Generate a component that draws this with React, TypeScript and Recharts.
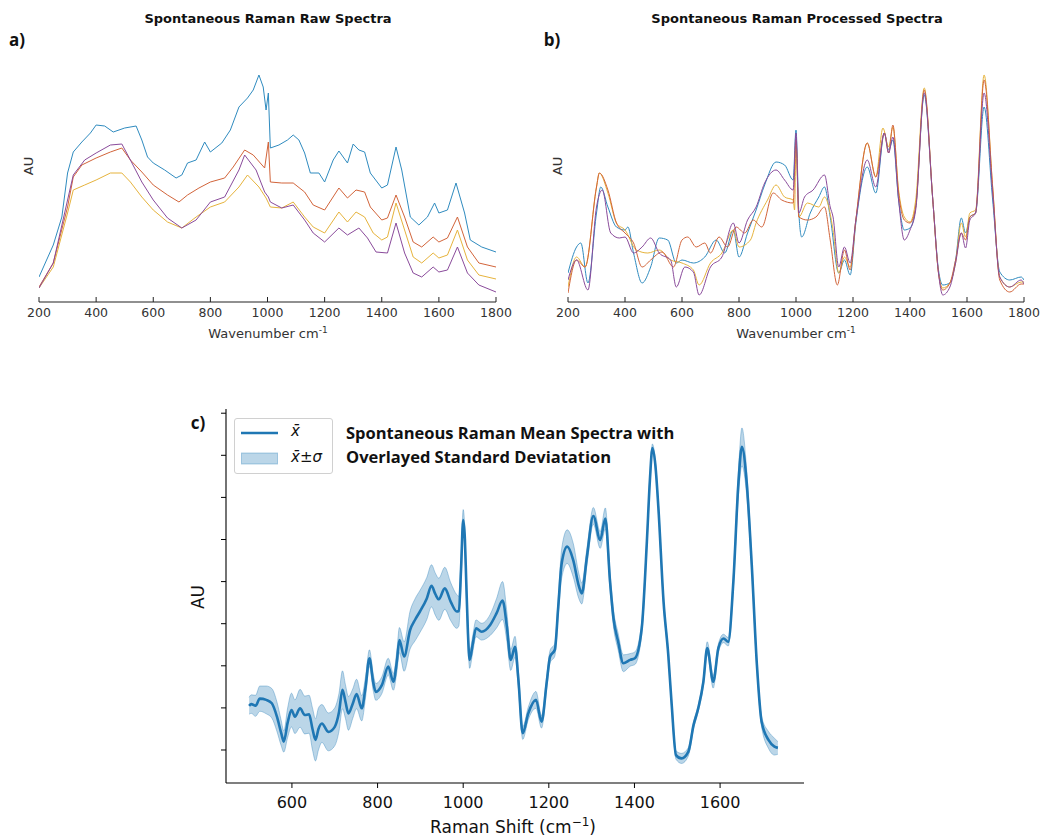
import React from 'react';
import { LineChart, ComposedChart, Line, Area, XAxis, YAxis } from 'recharts';

// ---------- Panel a: raw spectra (AU, arbitrary units) ----------
const rawTealX = [200,250,280,300,320,350,380,400,430,460,500,540,560,580,600,640,680,700,720,750,780,800,840,870,900,930,950,970,985,995,1003,1010,1040,1070,1090,1110,1130,1150,1180,1200,1230,1250,1280,1300,1320,1340,1360,1400,1420,1450,1470,1500,1530,1560,1585,1600,1630,1660,1690,1710,1750,1800];
const rawTeal = [25,57,85,129,150,160,169,177,176,170,174,176,162,145,139,132,124,127,139,142,160,150,159,172,195,204,212,227,215,192,209,154,157,162,167,162,149,129,129,120,142,151,139,158,152,150,129,114,117,155,132,85,77,85,99,89,92,119,89,62,55,50];
const rawOrangeX = [200,250,300,320,350,400,450,490,520,560,600,650,690,720,760,800,850,880,920,950,990,1003,1010,1050,1090,1130,1160,1200,1250,1280,1310,1340,1360,1400,1420,1450,1480,1510,1540,1580,1600,1630,1665,1700,1740,1800];
const rawOrange = [15,39,95,125,137,144,150,154,142,130,117,107,100,107,114,120,124,135,152,147,134,160,120,119,119,110,97,92,114,104,112,110,95,82,84,107,85,60,55,65,60,64,85,55,39,35];
const rawYellowX = [200,250,300,320,360,400,450,490,520,560,600,650,700,750,800,850,900,930,970,995,1010,1050,1090,1130,1160,1200,1250,1280,1310,1340,1370,1400,1420,1450,1480,1510,1540,1580,1600,1630,1665,1700,1740,1800];
const rawYellow = [14,35,89,112,117,122,129,129,120,105,92,80,74,85,95,100,115,127,115,104,95,94,100,85,75,69,90,80,90,85,69,62,65,99,72,45,39,49,44,47,72,42,27,23];
const rawPurpleX = [200,250,300,320,360,400,450,490,520,560,600,650,700,750,800,850,900,920,960,990,1003,1010,1050,1090,1130,1160,1200,1250,1280,1320,1350,1380,1420,1450,1480,1510,1540,1580,1600,1630,1665,1700,1740,1800];
const rawPurple = [14,39,102,127,142,149,157,158,142,120,102,84,74,82,100,105,132,147,132,110,105,100,94,97,82,69,60,74,67,74,64,50,49,79,49,29,25,35,30,32,55,29,17,10];

// ---------- Panel b: processed spectra ----------
const procTealX = [200,230,245,270,300,315,340,370,400,410,430,460,490,520,550,580,600,640,680,720,750,780,800,830,860,890,930,960,990,1000,1010,1020,1050,1080,1100,1120,1150,1170,1190,1210,1250,1280,1310,1325,1340,1360,1380,1400,1420,1450,1480,1500,1515,1540,1560,1580,1595,1610,1630,1660,1690,1715,1750,1790,1800];
const procTeal = [29,55,59,19,89,115,95,75,72,75,49,19,35,64,62,39,42,39,45,62,49,72,45,69,92,117,140,137,122,172,89,65,89,105,115,85,29,42,27,79,135,109,169,152,162,102,72,74,95,207,102,32,17,19,42,84,69,85,89,195,102,30,22,25,22];
const procYellowX = [200,230,260,300,310,340,370,400,440,480,520,560,600,640,660,700,740,780,800,840,860,900,930,960,990,995,1000,1010,1040,1080,1100,1130,1150,1170,1190,1210,1250,1280,1305,1325,1340,1360,1380,1400,1420,1450,1480,1500,1515,1540,1560,1580,1595,1610,1630,1660,1690,1715,1750,1790,1800];
const procYellow = [15,45,35,115,129,109,79,72,52,49,52,42,39,32,17,39,49,72,55,62,79,102,117,105,102,92,159,85,99,95,105,72,29,45,35,82,159,125,174,155,175,112,85,80,102,214,102,29,14,19,39,79,65,89,92,227,115,25,15,20,20];
const procOrangeX = [200,230,260,300,310,340,370,400,430,460,490,530,570,600,620,650,680,700,730,760,790,820,850,880,920,950,990,1000,1010,1040,1070,1100,1120,1145,1170,1190,1210,1250,1280,1310,1325,1340,1360,1380,1400,1420,1450,1480,1500,1515,1540,1560,1580,1595,1610,1630,1660,1690,1715,1750,1790,1800];
const procOrange = [9,42,35,115,129,112,79,69,59,35,42,50,35,62,65,55,59,49,65,55,75,69,82,75,109,102,99,162,85,82,85,95,62,17,52,32,82,159,125,169,149,177,109,82,79,95,212,102,29,12,19,42,69,62,85,89,222,115,22,10,18,18];
const procPurpleX = [200,230,270,300,320,350,380,400,430,460,490,520,560,580,610,640,660,700,740,780,800,830,860,890,930,960,990,1000,1010,1030,1060,1100,1120,1130,1150,1170,1190,1210,1250,1280,1310,1325,1340,1360,1380,1400,1420,1450,1480,1500,1515,1540,1560,1580,1595,1610,1630,1660,1690,1715,1750,1790,1800];
const procPurple = [22,42,12,95,112,69,64,65,49,55,64,49,42,15,35,30,7,35,45,79,59,82,95,119,132,122,112,169,89,105,112,127,95,85,35,55,39,82,142,115,169,149,165,102,62,72,92,209,102,29,7,15,39,69,54,82,89,209,109,25,15,22,18];

const wavenumberTicks = [200,400,600,800,1000,1200,1400,1600,1800];

// ---------- Panel c: mean spectrum and standard deviation ----------
const shiftC = [500,505,515,525,540,553,565,575,581,590,599,607,619,630,640,648,655,662,670,685,700,710,718,725,732,742,751,763,772,781,790,796,810,825,837,845,851,862,876,888,899,915,926,935,943,957,971,985,990,995,1000,1004,1007,1011,1015,1022,1030,1043,1063,1078,1092,1102,1111,1121,1129,1139,1152,1170,1183,1195,1203,1214,1222,1230,1243,1257,1270,1277,1289,1304,1320,1332,1343,1351,1362,1374,1390,1401,1417,1429,1436,1442,1449,1456,1468,1479,1487,1497,1510,1526,1538,1549,1561,1570,1584,1596,1608,1619,1631,1643,1651,1662,1674,1686,1697,1713,1727,1735];
const meanC = [1.05,1.09,1.05,1.22,1.19,1.11,0.79,0.4,0.2,0.65,0.95,0.79,0.99,0.83,0.85,0.5,0.24,0.5,0.63,0.43,0.55,0.9,1.43,1.15,0.87,1.1,1.33,0.99,1.5,2.18,1.6,1.38,1.54,1.98,1.62,2.1,2.61,2.22,2.85,3.1,3.29,3.6,3.9,3.7,3.58,3.84,3.52,3.29,3.3,4.3,5.46,5.0,4.04,2.8,2.14,2.5,2.89,2.81,2.97,3.25,3.55,2.93,2.14,2.45,1.66,0.4,0.87,1.19,0.67,1.6,2.22,2.38,3.4,4.43,4.83,4.51,3.9,3.72,4.59,5.56,4.99,5.5,4.0,3.13,2.57,2.06,2.14,2.18,2.89,4.95,6.4,7.17,6.75,5.74,3.52,2.26,1.07,-0.12,-0.2,-0.04,0.59,0.99,1.62,2.42,1.62,2.42,2.65,2.57,4.0,6.37,7.2,6.37,4.39,2.02,0.67,0.24,0.08,0.05];
const sdC = [0.2,0.22,0.25,0.3,0.33,0.35,0.35,0.3,0.25,0.35,0.4,0.4,0.45,0.45,0.45,0.5,0.5,0.5,0.45,0.45,0.45,0.45,0.45,0.4,0.4,0.35,0.35,0.3,0.25,0.2,0.2,0.2,0.2,0.2,0.2,0.25,0.3,0.35,0.45,0.5,0.5,0.5,0.5,0.5,0.5,0.5,0.45,0.4,0.35,0.3,0.25,0.22,0.2,0.2,0.2,0.2,0.2,0.2,0.25,0.35,0.45,0.35,0.25,0.25,0.2,0.15,0.15,0.2,0.15,0.15,0.15,0.15,0.2,0.35,0.4,0.4,0.3,0.25,0.2,0.2,0.2,0.25,0.2,0.2,0.2,0.2,0.15,0.15,0.15,0.1,0.1,0.1,0.1,0.1,0.08,0.08,0.08,0.1,0.12,0.1,0.08,0.08,0.1,0.15,0.15,0.1,0.1,0.1,0.15,0.3,0.45,0.3,0.15,0.1,0.12,0.2,0.2,0.15];
const shiftTicks = [600,800,1000,1200,1400,1600];
const auTicks = [0,1,2,3,4,5,6,7,8];

const COLORS = { teal: '#2f8bbf', orange: '#d2643a', yellow: '#e6b33c', purple: '#8a4b9b' };
const MPL_BLUE = '#1f77b4';

const pairs = (xs: number[], ys: number[]) => xs.map((w, i) => ({ w, v: ys[i] }));

const rawSeries = [
  { name: 'teal', data: pairs(rawTealX, rawTeal), color: COLORS.teal },
  { name: 'orange', data: pairs(rawOrangeX, rawOrange), color: COLORS.orange },
  { name: 'yellow', data: pairs(rawYellowX, rawYellow), color: COLORS.yellow },
  { name: 'purple', data: pairs(rawPurpleX, rawPurple), color: COLORS.purple },
];
const procSeries = [
  { name: 'teal', data: pairs(procTealX, procTeal), color: COLORS.teal },
  { name: 'yellow', data: pairs(procYellowX, procYellow), color: COLORS.yellow },
  { name: 'orange', data: pairs(procOrangeX, procOrange), color: COLORS.orange },
  { name: 'purple', data: pairs(procPurpleX, procPurple), color: COLORS.purple },
];
const meanRows = shiftC.map((w, i) => ({ w, m: meanC[i], band: [meanC[i] - sdC[i], meanC[i] + sdC[i]] }));

const abs = (left: number, top: number, extra: React.CSSProperties = {}): React.CSSProperties => ({
  position: 'absolute', left, top, transform: 'translate(-50%, -50%)', whiteSpace: 'nowrap', lineHeight: 1, ...extra,
});

function SpectraPanel({ series, lineType, width, left, right }:
  { series: typeof rawSeries; lineType: 'linear' | 'monotone'; width: number; left: number; right: number }) {
  return (
    <LineChart width={width} height={350} margin={{ top: 28, right, bottom: 18, left }}>
      <XAxis
        type="number" dataKey="w" domain={[200, 1800]} ticks={wavenumberTicks} allowDataOverflow interval={0}
        height={30} tickSize={-5} tickMargin={11}
        axisLine={{ stroke: '#222', strokeWidth: 1.2 }} tickLine={{ stroke: '#222' }}
        tick={{ fill: '#333', fontSize: 12.5, fontFamily: 'DejaVu Sans' }}
      />
      <YAxis type="number" domain={[0, 274]} allowDataOverflow width={0} tick={false} tickLine={false}
        axisLine={{ stroke: '#222', strokeWidth: 1.8 }} />
      {series.map((s) => (
        <Line key={s.name} data={s.data} dataKey="v" type={lineType} stroke={s.color} strokeWidth={1}
          dot={false} activeDot={false} isAnimationActive={false} />
      ))}
    </LineChart>
  );
}

export default function App() {
  const titleStyle: React.CSSProperties = { fontFamily: 'DejaVu Sans', fontWeight: 'bold', fontSize: 13, color: '#111' };
  const letterStyle: React.CSSProperties = { fontFamily: 'Open Sans', fontWeight: 'bold', fontSize: 17, color: '#111' };
  const labelStyle: React.CSSProperties = { fontFamily: 'DejaVu Sans', fontSize: 13, color: '#333' };
  const cLabel: React.CSSProperties = { fontFamily: 'DejaVu Sans', fontSize: 17, color: '#111' };
  return (
    <div style={{ position: 'absolute', left: 0, top: 0, width: 1043, height: 836, background: '#fff', overflow: 'hidden' }}>
      {/* Panel a */}
      <div style={{ position: 'absolute', left: 0, top: 0 }}>
        <SpectraPanel series={rawSeries} lineType="linear" width={520} left={39} right={24} />
      </div>
      <div style={abs(268, 18, titleStyle)}>Spontaneous Raman Raw Spectra</div>
      <div style={abs(17, 39, letterStyle)}>a)</div>
      <div style={abs(28, 166, { ...labelStyle, transform: 'translate(-50%, -50%) rotate(-90deg)' })}>AU</div>
      <div style={abs(268, 333, labelStyle)}>Wavenumber cm<sup style={{ fontSize: 9 }}>-1</sup></div>

      {/* Panel b */}
      <div style={{ position: 'absolute', left: 520, top: 0 }}>
        <SpectraPanel series={procSeries} lineType="monotone" width={523} left={48} right={19} />
      </div>
      <div style={abs(797, 18, titleStyle)}>Spontaneous Raman Processed Spectra</div>
      <div style={abs(552, 39, letterStyle)}>b)</div>
      <div style={abs(557, 166, { ...labelStyle, transform: 'translate(-50%, -50%) rotate(-90deg)' })}>AU</div>
      <div style={abs(796, 333, labelStyle)}>Wavenumber cm<sup style={{ fontSize: 9 }}>-1</sup></div>

      {/* Panel c */}
      <div style={{ position: 'absolute', left: 180, top: 400 }}>
        <ComposedChart width={640} height={436} data={meanRows} margin={{ top: 9, right: 16, bottom: 23, left: 36 }}>
          <XAxis type="number" dataKey="w" domain={[446, 1796]} ticks={shiftTicks} allowDataOverflow interval={0}
            height={30} tickSize={5} tickMargin={9}
            axisLine={{ stroke: '#000', strokeWidth: 1.1 }} tickLine={{ stroke: '#000' }}
            tick={{ fill: '#111', fontSize: 16, fontFamily: 'DejaVu Sans' }} />
          <XAxis xAxisId="top" orientation="top" type="number" domain={[446, 1796]} allowDataOverflow
            height={0} tick={false} tickLine={false} axisLine={{ stroke: '#000', strokeWidth: 1.1 }} />
          <YAxis type="number" domain={[-0.784, 8.1]} ticks={auTicks} allowDataOverflow width={10} interval={0}
            tickSize={5} tickFormatter={() => ''} axisLine={{ stroke: '#000', strokeWidth: 1.1 }}
            tickLine={{ stroke: '#000' }} />
          <YAxis yAxisId="r" orientation="right" type="number" domain={[0, 1]} width={0} tick={false}
            tickLine={false} axisLine={{ stroke: '#000', strokeWidth: 1.1 }} />
          <Area dataKey="band" type="monotone" fill={MPL_BLUE} fillOpacity={0.3} stroke={MPL_BLUE}
            strokeOpacity={0.35} strokeWidth={1} isAnimationActive={false} activeDot={false} />
          <Line dataKey="m" type="monotone" stroke={MPL_BLUE} strokeWidth={2.6} dot={false}
            activeDot={false} isAnimationActive={false} />
        </ComposedChart>
      </div>
      <div style={abs(198, 422, letterStyle)}>c)</div>
      <div style={abs(198, 597, { ...cLabel, transform: 'translate(-50%, -50%) rotate(-90deg)' })}>AU</div>
      <div style={abs(513, 826, cLabel)}>Raman Shift (cm<sup style={{ fontSize: 12 }}>−1</sup>)</div>

      {/* Legend */}
      <div style={{ position: 'absolute', left: 234, top: 418, width: 97, height: 54, border: '1px solid #d0d0d0', borderRadius: 3, background: '#fff' }}>
        <svg width={44} height={54} style={{ position: 'absolute', left: 0, top: 0 }}>
          <line x1={6} x2={43} y1={14} y2={14} stroke={MPL_BLUE} strokeWidth={2.6} />
          <rect x={6.5} y={34} width={36} height={11} fill={MPL_BLUE} fillOpacity={0.3} stroke={MPL_BLUE} strokeOpacity={0.35} />
        </svg>
        <div style={{ position: 'absolute', left: 56, top: 5, fontFamily: 'DejaVu Sans', fontSize: 15, fontStyle: 'italic', color: '#111', lineHeight: 1 }}>x̄</div>
        <div style={{ position: 'absolute', left: 56, top: 31, fontFamily: 'DejaVu Sans', fontSize: 15, color: '#111', lineHeight: 1 }}>
          <i>x̄</i>±<i>σ</i>
        </div>
      </div>
      <div style={{ position: 'absolute', left: 346, top: 421, fontFamily: 'Open Sans', fontWeight: 'bold', fontSize: 16.5, color: '#111', lineHeight: '24px', whiteSpace: 'nowrap' }}>
        Spontaneous Raman Mean Spectra with<br />Overlayed Standard Deviatation
      </div>
    </div>
  );
}
